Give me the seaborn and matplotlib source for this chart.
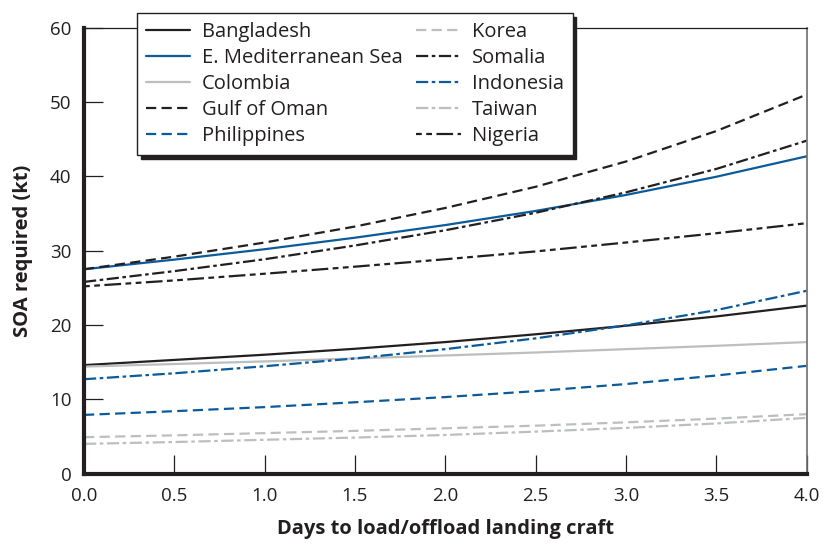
import matplotlib
matplotlib.use("Agg")
import matplotlib.pyplot as plt
import pandas as pd
import seaborn as sns

days = [0.0, 0.5, 1.0, 1.5, 2.0, 2.5, 3.0, 3.5, 4.0]

bangladesh = [14.6, 15.3, 16.0, 16.8, 17.7, 18.75, 19.9, 21.15, 22.6]
e_med = [27.5, 28.8, 30.2, 31.75, 33.45, 35.35, 37.5, 39.95, 42.7]
colombia = [14.4, 14.75, 15.1, 15.5, 15.9, 16.3, 16.75, 17.2, 17.7]
gulf_of_oman = [27.5, 29.2, 31.1, 33.25, 35.75, 38.6, 42.0, 46.1, 51.0]
philippines = [7.9, 8.4, 8.95, 9.6, 10.3, 11.1, 12.05, 13.2, 14.5]
korea = [4.9, 5.15, 5.45, 5.75, 6.1, 6.45, 6.9, 7.4, 8.0]
somalia = [25.8, 27.25, 28.85, 30.7, 32.75, 35.1, 37.85, 41.0, 44.8]
indonesia = [12.7, 13.5, 14.45, 15.5, 16.75, 18.2, 19.95, 22.0, 24.6]
taiwan = [4.0, 4.25, 4.55, 4.85, 5.2, 5.65, 6.15, 6.75, 7.5]
nigeria = [25.2, 26.0, 26.9, 27.85, 28.85, 29.9, 31.1, 32.35, 33.7]

series = {
    "Bangladesh": bangladesh,
    "E. Mediterranean Sea": e_med,
    "Colombia": colombia,
    "Gulf of Oman": gulf_of_oman,
    "Philippines": philippines,
    "Korea": korea,
    "Somalia": somalia,
    "Indonesia": indonesia,
    "Taiwan": taiwan,
    "Nigeria": nigeria,
}

BLACK = "#231f20"
BLUE = "#0b5b9b"
GRAY = "#bcbec0"

SOLID = ""
DASH = (4.6, 2.4)
DASHDOT = (5.5, 1.6, 1.6, 1.6)
NIGERIA = (2.6, 2.0, 2.6, 2.0, 7.5, 2.0)

palette = {
    "Bangladesh": BLACK, "E. Mediterranean Sea": BLUE, "Colombia": GRAY,
    "Gulf of Oman": BLACK, "Philippines": BLUE, "Korea": GRAY,
    "Somalia": BLACK, "Indonesia": BLUE, "Taiwan": GRAY, "Nigeria": BLACK,
}
dashes = {
    "Bangladesh": SOLID, "E. Mediterranean Sea": SOLID, "Colombia": SOLID,
    "Gulf of Oman": DASH, "Philippines": DASH, "Korea": DASH,
    "Somalia": DASHDOT, "Indonesia": DASHDOT, "Taiwan": DASHDOT,
    "Nigeria": NIGERIA,
}

df = pd.DataFrame(
    [{"days": d, "soa": v, "region": name}
     for name, vals in series.items() for d, v in zip(days, vals)]
)

sns.set_style("ticks")
plt.rcParams["font.family"] = ["Open Sans", "DejaVu Sans"]

fig = plt.figure(figsize=(8.23, 5.46), dpi=100)
ax = fig.add_axes([84 / 823, 1 - 473.6 / 546, (806.5 - 84) / 823, (473.6 - 27.8) / 546])

order = list(series.keys())
sns.lineplot(data=df, x="days", y="soa", hue="region", style="region",
             hue_order=order, style_order=order, palette=palette,
             dashes=dashes, linewidth=1.6, ax=ax, legend=True)

ax.set_xlim(0, 4)
ax.set_ylim(0, 60)
ax.set_xticks([0.0, 0.5, 1.0, 1.5, 2.0, 2.5, 3.0, 3.5, 4.0])
ax.set_xticklabels(["0.0", "0.5", "1.0", "1.5", "2.0", "2.5", "3.0", "3.5", "4.0"])
ax.set_yticks([0, 10, 20, 30, 40, 50, 60])
ax.tick_params(direction="in", length=14, width=0.9, color=BLACK,
               labelsize=13.5, labelcolor=BLACK)
ax.tick_params(axis="x", pad=10)
ax.tick_params(axis="y", pad=9)

for side in ("left", "bottom"):
    ax.spines[side].set_linewidth(3)
    ax.spines[side].set_color(BLACK)
ax.spines["top"].set_linewidth(0.9)
ax.spines["top"].set_color(BLACK)
ax.spines["right"].set_linewidth(1.2)
ax.spines["right"].set_color("#6d6e71")

ax.set_xlabel("Days to load/offload landing craft", fontsize=14.5,
              fontweight="bold", color=BLACK, labelpad=10)
ax.set_ylabel("SOA required (kt)", fontsize=14.5, fontweight="bold",
              color=BLACK, labelpad=12)

sns.move_legend(
    ax, loc="upper left", bbox_to_anchor=(127 / 823, 1 - 3 / 546),
    bbox_transform=fig.transFigure, ncol=2, title=None, frameon=True,
    fontsize=14.5, handlelength=2.2, handletextpad=0.55, columnspacing=0.7,
    labelspacing=0.3, borderpad=0.45, fancybox=False,
    shadow={"ox": 2.5, "oy": -2.5, "color": BLACK, "alpha": 1},
)
leg = ax.get_legend()
leg.get_frame().set_edgecolor(BLACK)
leg.get_frame().set_linewidth(1.0)
leg.get_frame().set_alpha(1)
for t in leg.get_texts():
    t.set_color(BLACK)

fig.savefig("out.png", dpi=100)
